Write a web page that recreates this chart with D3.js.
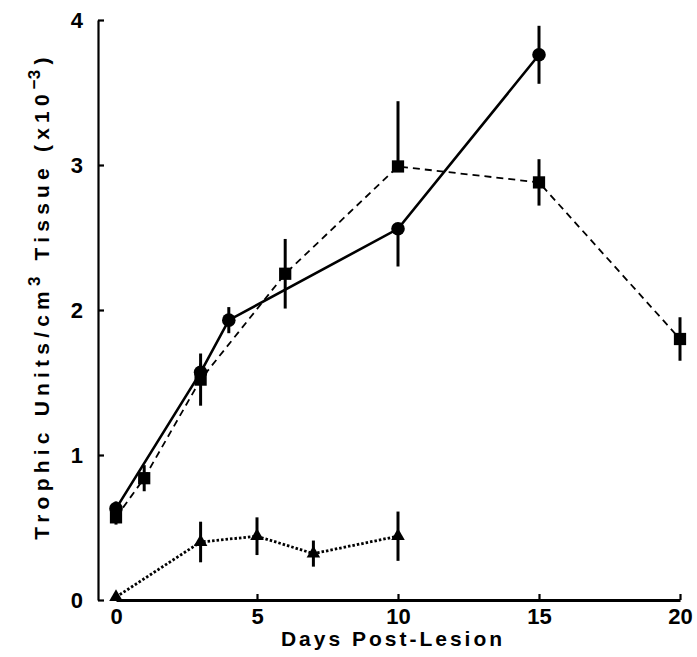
<!DOCTYPE html>
<html>
<head>
<meta charset="utf-8">
<script src="https://cdn.jsdelivr.net/npm/d3@7"></script>
<style>
  html, body { margin: 0; padding: 0; background: #fff; }
  svg { display: block; }
  text { font-family: "Liberation Sans", Arial, Helvetica, sans-serif; font-weight: bold; fill: #000; }
</style>
</head>
<body>
<svg id="chart" width="697" height="657"></svg>
<script>
// Days post-lesion and trophic activity (units/cm^3 tissue, x10^-3)
const xTicks = [0, 5, 10, 15, 20];
const yTicks = [0, 1, 2, 3, 4];

// Solid line, circles
const circleDays = [0, 3, 4, 10, 15];
const circleVals = [0.63, 1.57, 1.93, 2.56, 3.76];
const circleErrUp = [0.05, 0.06, 0.09, 0, 0.20];
const circleErrDown = [0.05, 0.06, 0.09, 0.26, 0.20];

// Dashed line, squares
const squareDays = [0, 1, 3, 6, 10, 15, 20];
const squareVals = [0.57, 0.84, 1.52, 2.25, 2.99, 2.88, 1.80];
const squareErrUp = [0.05, 0.09, 0.18, 0.24, 0.45, 0.16, 0.15];
const squareErrDown = [0.05, 0.09, 0.18, 0.24, 0, 0.16, 0.15];

// Dotted line, triangles
const triDays = [0, 3, 5, 7, 10];
const triVals = [0.02, 0.40, 0.44, 0.32, 0.44];
const triErr = [0, 0.14, 0.13, 0.09, 0.17];

const svg = d3.select("#chart");
const x = d3.scaleLinear().domain([0, 20]).range([116, 680]);
const y = d3.scaleLinear().domain([0, 4]).range([600, 20]);

// Axes: inward ticks, no outer ticks
const yAxis = svg.append("g")
  .attr("transform", "translate(98,0)")
  .call(d3.axisLeft(y).tickValues(yTicks).tickSize(-6).tickSizeOuter(0).tickPadding(15).tickFormat(d3.format("d")));
yAxis.select(".domain").attr("stroke", "#000").attr("stroke-width", 2.2);
yAxis.selectAll(".tick line").attr("stroke", "#000").attr("stroke-width", 2.2);
yAxis.selectAll(".tick text").attr("font-size", 22).attr("font-family", null);

const xAxis = svg.append("g")
  .attr("transform", "translate(0,600)")
  .call(d3.axisBottom(x).tickValues(xTicks).tickSize(-6).tickSizeOuter(0).tickPadding(8).tickFormat(d3.format("d")));
xAxis.select(".domain").attr("stroke", "#000").attr("stroke-width", 3);
xAxis.selectAll(".tick line").attr("stroke", "#000").attr("stroke-width", 2.2);
xAxis.selectAll(".tick text").attr("font-size", 22).attr("font-family", null);
svg.selectAll(".domain").attr("fill", "none");

// Axis titles
svg.append("text")
  .attr("x", 393).attr("y", 646)
  .attr("text-anchor", "middle")
  .attr("font-size", 21)
  .attr("letter-spacing", 3)
  .text("Days Post-Lesion");

const yTitle = svg.append("text")
  .attr("transform", "translate(49,296) rotate(-90)")
  .attr("text-anchor", "middle")
  .attr("font-size", 21)
  .attr("letter-spacing", 5.2);
yTitle.append("tspan").text("Trophic Units/cm");
yTitle.append("tspan").attr("dy", -9).attr("font-size", 17).text("3");
yTitle.append("tspan").attr("dy", 9).text(" Tissue (x10");
yTitle.append("tspan").attr("dy", -9).attr("font-size", 17).attr("letter-spacing", 0).text("\u2212");
yTitle.append("tspan").attr("font-size", 17).text("3");
yTitle.append("tspan").attr("dy", 9).text(")");

// Build a series record list from the arrays
function series(days, vals, up, down) {
  return days.map((d, i) => ({ d, v: vals[i], up: up[i], down: down[i] }));
}
const circles = series(circleDays, circleVals, circleErrUp, circleErrDown);
const squares = series(squareDays, squareVals, squareErrUp, squareErrDown);
const tris = series(triDays, triVals, triErr, triErr);

const line = d3.line().x(p => x(p.d)).y(p => y(p.v));

svg.append("path").datum(squares).attr("d", line)
  .attr("fill", "none").attr("stroke", "#000").attr("stroke-width", 1.8).attr("stroke-dasharray", "7,5");
svg.append("path").datum(circles).attr("d", line)
  .attr("fill", "none").attr("stroke", "#000").attr("stroke-width", 2.6);
svg.append("path").datum(tris).attr("d", line)
  .attr("fill", "none").attr("stroke", "#000").attr("stroke-width", 2.8).attr("stroke-dasharray", "2.5,2");

// Error bars
function errorBars(data) {
  svg.append("g").selectAll("line").data(data.filter(p => p.up > 0 || p.down > 0)).join("line")
    .attr("x1", p => x(p.d)).attr("x2", p => x(p.d))
    .attr("y1", p => y(p.v + p.up)).attr("y2", p => y(p.v - p.down))
    .attr("stroke", "#000").attr("stroke-width", 3);
}
errorBars(squares);
errorBars(circles);
errorBars(tris);

// Markers
function markers(data, type, size) {
  svg.append("g").selectAll("path").data(data).join("path")
    .attr("transform", p => `translate(${x(p.d)},${y(p.v)})`)
    .attr("d", d3.symbol().type(type).size(size))
    .attr("fill", "#000");
}
markers(squares, d3.symbolSquare, 150);
markers(circles, d3.symbolCircle, 145);
markers(tris, d3.symbolTriangle, 80);
</script>
</body>
</html>
